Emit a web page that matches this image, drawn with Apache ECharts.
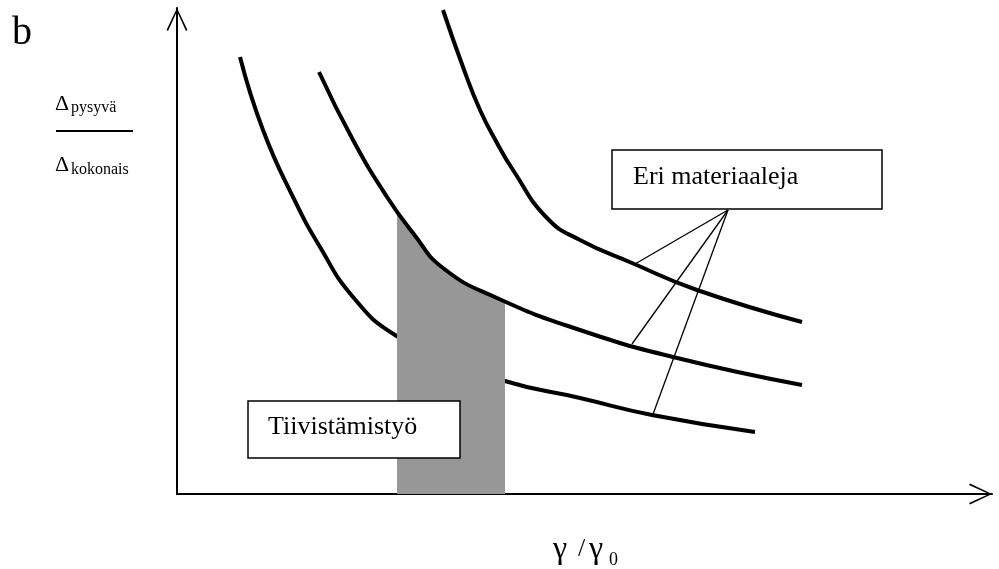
<!DOCTYPE html>
<html>
<head>
<meta charset="utf-8">
<title>Tiivistämistyö</title>
<script src="https://cdn.jsdelivr.net/npm/echarts@6/dist/echarts.min.js"></script>
<style>
  html, body { margin: 0; padding: 0; background: #fff; }
  #chart { width: 999px; height: 569px; }
</style>
</head>
<body>
<div id="chart"></div>
<script>
// arvot luettu kuvasta, yksikkö = akselin oma asteikko (x 0..815, y 0..486)
const lowCurve = [[63, 437], [86, 364], [116, 297], [143, 247], [176, 197], [218, 159],
  [273, 136], [328, 113], [403, 96], [475, 79], [578, 62]];
const midCurve = [[142, 422], [176, 354], [210, 297], [236, 261], [266, 226], [320, 196],
  [403, 164], [496, 137], [625, 109]];
const highCurve = [[266, 484], [286, 427], [303, 384], [320, 351], [336, 324], [370, 276],
  [403, 254], [455, 231], [520, 204], [625, 172]];
// harmaa alue (tiivistämistyö)
const shadeTop = [[220, 280], [236, 260], [266, 225], [300, 205], [328, 193]];
// "Eri materiaaleja" viivat
const leaderFrom = [551, 284];
const leaderTo = [[458, 230], [455, 150], [475, 77]];

const labelB = 'b';
const labelMaterials = 'Eri materiaaleja';
const labelWork = 'Tiivistämistyö';
const gammaChar = 'γ';
const xLabelSub = '0';

const serif = "'Liberation Serif', 'DejaVu Serif', serif";
// avoin nuolenkärki
const openArrow = 'path://M10,0 L20,21 L18.6,22 L10,3 L1.4,22 L0,21 Z';

const chart = echarts.init(document.getElementById('chart'));

function curve(data, z) {
  return {
    type: 'line',
    data: data,
    smooth: 0.5,
    showSymbol: false,
    clip: false,
    z: z,
    lineStyle: { color: '#000', width: 4 }
  };
}

function txt(x, y, s, size, z) {
  return { type: 'text', x: x, y: y, z: z || 100,
    style: { text: s, font: size + 'px ' + serif, fill: '#000', textVerticalAlign: 'middle' } };
}

const leaderSeries = leaderTo.map(function (p) {
  return {
    type: 'line',
    data: [leaderFrom, p],
    showSymbol: false,
    z: 5,
    lineStyle: { color: '#000', width: 1.3 }
  };
});

const axisCommon = {
  type: 'value',
  min: 0,
  axisLine: {
    show: true,
    symbol: ['none', openArrow],
    symbolSize: [22, 23],
    symbolOffset: [0, -11.5],
    lineStyle: { color: '#000', width: 2 }
  },
  axisTick: { show: false },
  axisLabel: { show: false },
  splitLine: { show: false }
};

chart.setOption({
  animation: false,
  backgroundColor: '#fff',
  grid: { left: 177, right: 7, top: 8, bottom: 75 },
  xAxis: Object.assign({}, axisCommon, { max: 815 }),
  yAxis: Object.assign({}, axisCommon, { max: 486 }),
  series: [
    curve(lowCurve, 2),
    {
      type: 'line',
      data: shadeTop,
      smooth: 0.5,
      showSymbol: false,
      z: 3,
      lineStyle: { width: 0, opacity: 0 },
      areaStyle: { color: '#979797', opacity: 1 }
    },
    curve(midCurve, 4),
    curve(highCurve, 4)
  ].concat(leaderSeries),
  graphic: [
    txt(12, 33, labelB, 40),
    txt(55, 104, 'Δ', 22),
    txt(71, 108, 'pysyvä', 16),
    { type: 'line', z: 100, shape: { x1: 56, y1: 131, x2: 133, y2: 131 },
      style: { stroke: '#000', lineWidth: 2 } },
    txt(55, 165, 'Δ', 22),
    txt(71, 170, 'kokonais', 16),
    { type: 'rect', z: 100, shape: { x: 612, y: 150, width: 270, height: 59 },
      style: { fill: '#fff', stroke: '#000', lineWidth: 1.5 } },
    txt(633, 177, labelMaterials, 26, 101),
    { type: 'rect', z: 100, shape: { x: 248, y: 401, width: 212, height: 57 },
      style: { fill: '#fff', stroke: '#000', lineWidth: 1.5 } },
    txt(268, 427, labelWork, 26, 101),
    // x-akselin nimi γ / γ0
    txt(553, 550, gammaChar, 32),
    txt(578, 549, '/', 26),
    txt(589, 550, gammaChar, 32),
    txt(609, 560, xLabelSub, 18)
  ]
});
</script>
</body>
</html>
